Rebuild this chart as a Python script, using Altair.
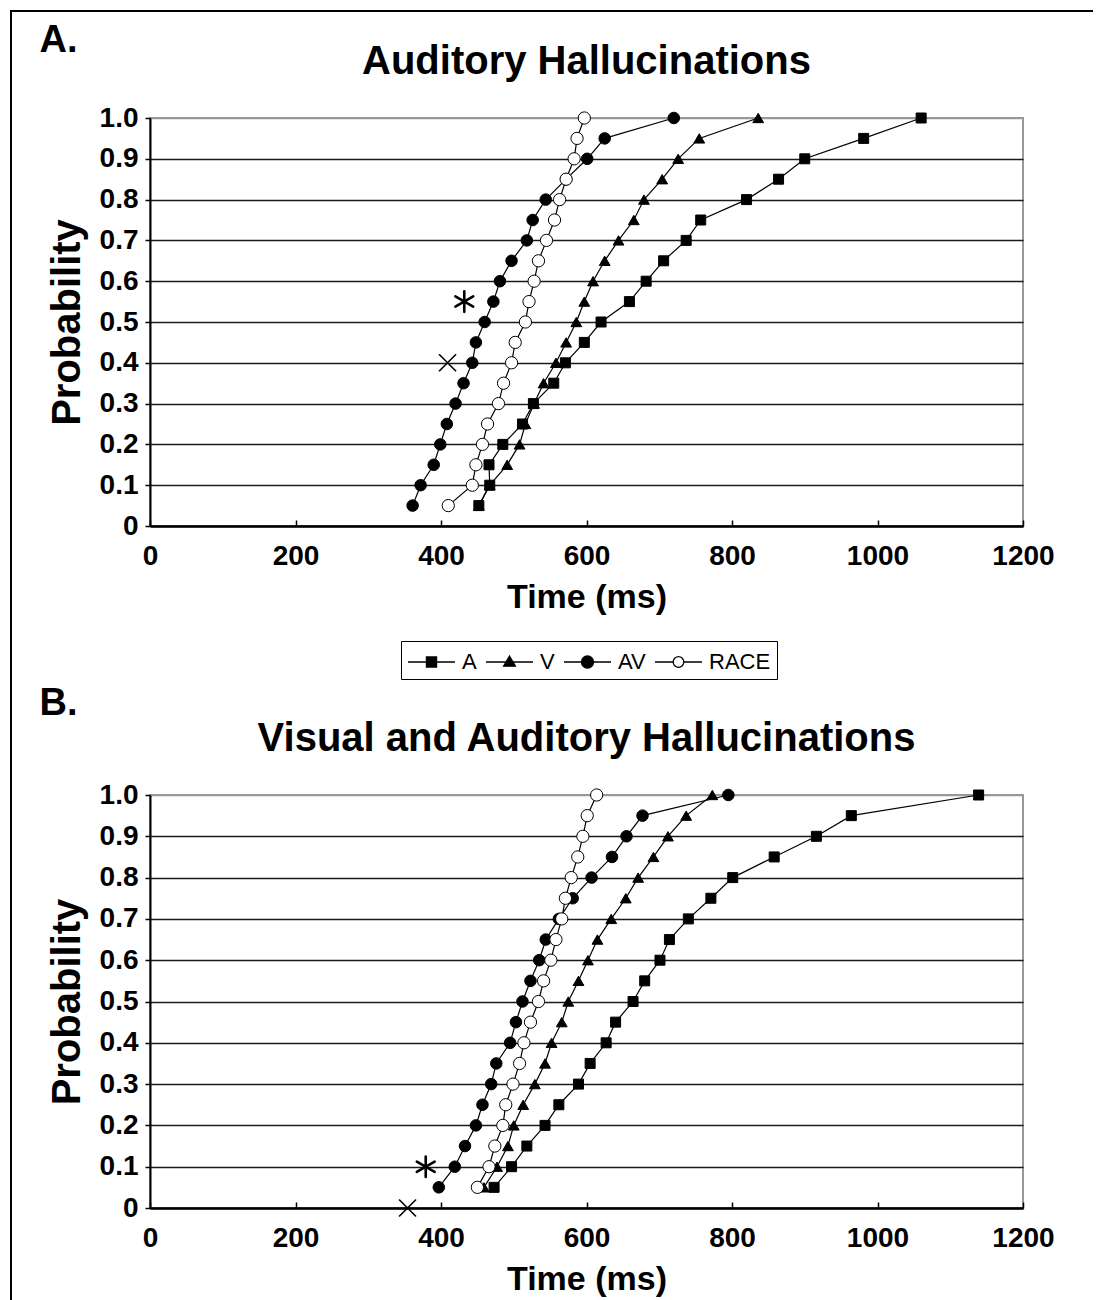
import altair as alt
import pandas as pd

# ---------------- data ----------------
prob = [0.05, 0.10, 0.15, 0.20, 0.25, 0.30, 0.35, 0.40, 0.45, 0.50,
        0.55, 0.60, 0.65, 0.70, 0.75, 0.80, 0.85, 0.90, 0.95, 1.00]
series = ["A", "V", "AV", "RACE"]

# Panel A: Auditory Hallucinations (time in ms at each probability)
a_A = [452, 467, 466, 485, 512, 527, 555, 571, 597, 620, 659, 682, 706, 737, 757, 820, 864, 900, 981, 1060]
a_V = [452, 467, 491, 508, 516, 528, 541, 558, 572, 586, 597, 609, 625, 644, 665, 679, 704, 726, 755, 836]
a_AV = [361, 372, 390, 399, 408, 420, 431, 443, 448, 460, 472, 481, 497, 518, 526, 544, 572, 601, 625, 720]
a_RACE = [410, 443, 448, 457, 464, 479, 486, 497, 502, 516, 521, 528, 534, 545, 556, 563, 572, 583, 587, 597]

# Panel B: Visual and Auditory Hallucinations
b_A = [473, 497, 518, 543, 562, 589, 605, 627, 640, 664, 680, 701, 714, 740, 771, 801, 858, 916, 964, 1139]
b_V = [459, 477, 492, 500, 513, 529, 543, 552, 566, 575, 589, 602, 615, 634, 654, 671, 692, 712, 737, 773]
b_AV = [397, 419, 433, 448, 457, 469, 476, 495, 503, 512, 523, 535, 544, 562, 581, 607, 635, 655, 677, 795]
b_RACE = [450, 466, 474, 485, 489, 499, 508, 514, 523, 534, 541, 551, 558, 566, 571, 579, 588, 595, 601, 614]

# extra single markers: star (asterisk) and cross
annA_kind = ["star", "cross"]
annA_ms = [432, 409]
annA_p = [0.55, 0.40]
annB_kind = ["star", "cross"]
annB_ms = [379, 354]
annB_p = [0.10, 0.00]

x_ticks = [0, 200, 400, 600, 800, 1000, 1200]
y_ticks = [0.0, 0.1, 0.2, 0.3, 0.4, 0.5, 0.6, 0.7, 0.8, 0.9, 1.0]

titles = ["Auditory Hallucinations", "Visual and Auditory Hallucinations"]
letters = ["A.", "B."]

# ---------------- styles ----------------
FONT = "Liberation Sans"
shape_range = ["square", "triangle-up", "circle", "circle"]
fill_range = ["black", "black", "black", "white"]
size_range = [100, 150, 130, 120]
STAR_PATH = "M0,-1V1M-0.87,-0.5L0.87,0.5M-0.87,0.5L0.87,-0.5"
CROSS_PATH = "M-1,-1L1,1M-1,1L1,-1"
# legend glyphs: a line with the marker in its middle (unit = half the 28px symbol box)
legend_paths = [
    "M-1.68,0H1.68M-0.36,-0.36H0.36V0.36H-0.36Z",
    "M-1.68,0H1.68M0,-0.42L0.42,0.3H-0.42Z",
    "M-1.68,0H1.68M0.43,0A0.43,0.43 0 1,1 -0.43,0A0.43,0.43 0 1,1 0.43,0Z",
    "M-1.68,0H-0.38M0.38,0H1.68M0.38,0A0.38,0.38 0 1,1 -0.38,0A0.38,0.38 0 1,1 0.38,0Z",
]
# figure frame (pixel offsets relative to each panel's plot area)
FRAME_L, FRAME_R = -139, 943


def long_df(vals):
    rows = []
    for s, v in zip(series, vals):
        for i, (p, t) in enumerate(zip(prob, v)):
            rows.append({"series": s, "order": i, "prob": p, "ms": t})
    return pd.DataFrame(rows)


def panel(vals, ann_kind, ann_ms, ann_p, title, letter, height, with_legend,
          title_offset, letter_offset, frame_top, frame_bottom, draw_top):
    df = long_df(vals)
    ann = pd.DataFrame({"kind": ann_kind, "ms": ann_ms, "prob": ann_p})

    xscale = alt.Scale(domain=[0, 1200], nice=False, zero=False)
    yscale = alt.Scale(domain=[0, 1], nice=False)

    x_main = alt.Axis(orient="bottom", values=x_ticks, format="d", grid=False, ticks=False,
                      domainColor="black", domainWidth=2.5, labelFontSize=28,
                      labelFontWeight="bold", labelPadding=16, labelFlush=False,
                      title="Time (ms)", titleFontSize=34, titleFontWeight="bold",
                      titlePadding=10)
    # short tick marks pointing into the plot
    x_inner = alt.Axis(orient="bottom", values=x_ticks, offset=-6, tickSize=6,
                       tickColor="black", tickWidth=1.5, labels=False,
                       domain=False, grid=False, title=None)
    y_main = alt.Axis(values=y_ticks, grid=True,
                      gridColor={"condition": {"test": "datum.value > 0.95", "value": "#999999"},
                                 "value": "#1a1a1a"},
                      gridWidth=1.6, domainColor="black", domainWidth=2,
                      tickColor="black", tickSize=5, tickWidth=1.5,
                      labelFontSize=28, labelFontWeight="bold", labelPadding=7,
                      labelExpr="datum.value == 0 ? '0' : format(datum.value, '.1f')",
                      title="Probability", titleFontSize=40, titleFontWeight="bold",
                      titlePadding=12)

    def X(axis):
        return alt.X("ms:Q", scale=xscale, axis=axis)

    base = alt.Chart(df)
    lines = base.mark_line(color="black", strokeWidth=1.2).encode(
        x=X(None),
        detail="series:N",
        order="order:Q",
    )
    points = base.mark_point(filled=True, stroke="black", strokeWidth=1, opacity=1).encode(
        x=X(x_main),
        shape=alt.Shape("series:N", scale=alt.Scale(domain=series, range=shape_range), legend=None),
        fill=alt.Fill("series:N", scale=alt.Scale(domain=series, range=fill_range), legend=None),
        size=alt.Size("series:N", scale=alt.Scale(domain=series, range=size_range), legend=None),
    )
    star = alt.Chart(ann).transform_filter("datum.kind == 'star'").mark_point(
        shape=STAR_PATH, size=420, filled=False, stroke="black", strokeWidth=2.6,
        strokeCap="round", opacity=1
    ).encode(x=X(None))
    cross = alt.Chart(ann).transform_filter("datum.kind == 'cross'").mark_point(
        shape=CROSS_PATH, size=289, filled=False, stroke="black", strokeWidth=1.6, opacity=1
    ).encode(x=X(x_inner))

    # the figure's outer frame (left side and top edge)
    one = alt.Chart(pd.DataFrame({"frame": [1]}))
    side_l = one.mark_rule(color="black", strokeWidth=2, strokeCap="square").encode(
        x=alt.value(FRAME_L), y=alt.value(frame_top), y2=alt.value(frame_bottom))
    layers = [side_l]
    if draw_top:
        top = one.mark_rule(color="black", strokeWidth=2).encode(
            x=alt.value(FRAME_L), x2=alt.value(FRAME_R), y=alt.value(frame_top))
        layers.append(top)

    layers += [lines, points, star, cross]
    if with_legend:
        leg = alt.Legend(title=None, orient="none", legendX=251, legendY=523,
                         direction="horizontal", strokeColor="black", padding=6,
                         labelFont=FONT, labelFontSize=22, labelColor="black",
                         labelFontWeight="normal", symbolSize=784, symbolOffset=9.5,
                         labelOffset=15.5, columnPadding=6,
                         symbolStrokeColor="black", symbolStrokeWidth=1.3)
        dummy = base.transform_filter("false").mark_point(
            filled=False, strokeWidth=1.3, size=784, opacity=1
        ).encode(
            x=X(None),
            shape=alt.Shape("series:N", scale=alt.Scale(domain=series, range=legend_paths), legend=leg),
            fill=alt.Fill("series:N", scale=alt.Scale(domain=series, range=fill_range), legend=leg),
            stroke=alt.Stroke("series:N", scale=alt.Scale(domain=series, range=["black"] * 4), legend=leg),
        )
        layers.append(dummy)

    layer = alt.layer(*layers).encode(
        y=alt.Y("prob:Q", scale=yscale, axis=y_main),
    ).resolve_scale(
        shape="independent", fill="independent", stroke="independent"
    ).resolve_axis(
        x="independent"
    ).properties(
        width=873, height=height,
        title=alt.TitleParams(text=title, frame="group", anchor="middle", font=FONT,
                              fontSize=40, fontWeight="bold", color="black",
                              offset=title_offset),
    )
    return alt.vconcat(
        layer,
        title=alt.TitleParams(text=letter, anchor="start", font=FONT, fontSize=38,
                              fontWeight="bold", color="black", offset=letter_offset, dx=31),
    )


pA = panel([a_A, a_V, a_AV, a_RACE], annA_kind, annA_ms, annA_p, titles[0], letters[0],
           408, True, -72, -51, -107, 564, True)
pB = panel([b_A, b_V, b_AV, b_RACE], annB_kind, annB_ms, annB_p, titles[1], letters[1],
           413, False, -80, -45, -115, 505, False)

chart = alt.vconcat(pA, pB, spacing=-8).properties(
    padding={"left": 0, "top": 0, "right": 0, "bottom": 0}
).configure(
    font=FONT,
).configure_view(
    stroke="#999999", strokeWidth=2
).configure_axis(
    labelFont=FONT, titleFont=FONT, labelColor="black", titleColor="black"
)

chart.save("out.html", embed_options={"renderer": "svg", "actions": False})
